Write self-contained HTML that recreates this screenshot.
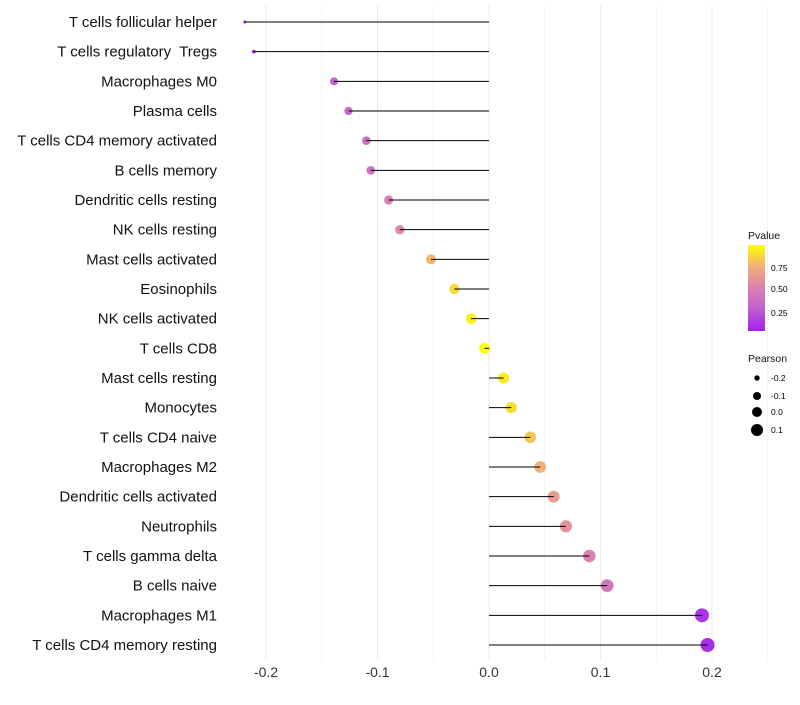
<!DOCTYPE html>
<html><head><meta charset="utf-8"><style>
body{margin:0;background:#fff;font-family:"Liberation Sans",sans-serif}
</style></head><body>
<svg id="chart" width="800" height="700" xmlns="http://www.w3.org/2000/svg">
<defs><linearGradient id="pg" x1="0" y1="1" x2="0" y2="0">
<stop offset="0" stop-color="#a020f0"/><stop offset="0.25" stop-color="#c060d0"/><stop offset="0.5" stop-color="#d880b0"/><stop offset="0.75" stop-color="#f0b078"/><stop offset="1" stop-color="#ffff00"/></linearGradient></defs>
<g id="grid"></g><g id="points"></g><g id="marks"></g><g id="labels"></g><g id="legend"></g>
</svg>
<script>
const categories=["T cells follicular helper","T cells regulatory  Tregs","Macrophages M0","Plasma cells","T cells CD4 memory activated","B cells memory","Dendritic cells resting","NK cells resting","Mast cells activated","Eosinophils","NK cells activated","T cells CD8","Mast cells resting","Monocytes","T cells CD4 naive","Macrophages M2","Dendritic cells activated","Neutrophils","T cells gamma delta","B cells naive","Macrophages M1","T cells CD4 memory resting"];
const pearson=[-0.219,-0.211,-0.139,-0.126,-0.110,-0.106,-0.090,-0.080,-0.052,-0.031,-0.016,-0.004,0.013,0.020,0.037,0.046,0.058,0.069,0.090,0.106,0.191,0.196];
const pvalue=[0.02,0.03,0.28,0.33,0.38,0.40,0.50,0.55,0.78,0.88,0.95,0.99,0.93,0.90,0.82,0.75,0.65,0.60,0.50,0.42,0.08,0.06];
const xTicks=[-0.2,-0.1,0.0,0.1,0.2];
const xTickLabels=["-0.2","-0.1","0.0","0.1","0.2"];
const NS="http://www.w3.org/2000/svg";
const x=v=>489+v*1115;
const y=i=>22+i*(623/21);
function rad(v){let r2;if(v<-0.139)r2=2.25+(v+0.219)/0.08*13.75;else r2=16+100*(v+0.139);return Math.sqrt(Math.max(r2,2.25));}
function hex(h){return [1,3,5].map(i=>parseInt(h.substr(i,2),16));}
const stops=[[0,"#a020f0"],[0.25,"#c060d0"],[0.5,"#d880b0"],[0.75,"#f0b078"],[1,"#ffff00"]];
function col(p){for(let k=1;k<stops.length;k++){if(p<=stops[k][0]){const a=stops[k-1],b=stops[k];const t=(p-a[0])/(b[0]-a[0]);const A=hex(a[1]),B=hex(b[1]);return "rgb("+A.map((c,j)=>Math.round(c+(B[j]-c)*t)).join(",")+")";}}return "#ffff00";}
function mk(tag,attrs,parent){const e=document.createElementNS(NS,tag);for(const k in attrs)e.setAttribute(k,attrs[k]);document.getElementById(parent).appendChild(e);return e;}
for(let v=-0.2;v<=0.2501;v+=0.05){const g=mk("line",{x1:x(v),x2:x(v),y1:5,y2:660,stroke:"#ebebeb","stroke-width":Math.abs(Math.round(v*20))%2===0?1:0.6},"grid");

}
xTicks.forEach((t,i)=>{const e=mk("text",{x:x(t),y:677,"text-anchor":"middle","font-size":14,fill:"#333"},"labels");e.textContent=xTickLabels[i];

});
categories.forEach((c,i)=>{
const p=mk("circle",{cx:x(pearson[i]),cy:y(i),r:rad(pearson[i]),fill:col(pvalue[i])},"points");


const l=mk("line",{x1:x(0),x2:x(pearson[i]),y1:y(i),y2:y(i),stroke:"#000","stroke-width":1},"marks");


const t=mk("text",{x:217,y:y(i)+5,"text-anchor":"end","font-size":15,fill:"#111","xml:space":"preserve",style:"white-space:pre"},"labels");t.textContent=c;

});
const lg=document.getElementById("legend");
lg.innerHTML='<text x="748" y="239" font-size="10.5" fill="#111">Pvalue</text><rect x="748" y="245" width="17" height="86" fill="url(#pg)"/>'+
'<text x="771" y="271" font-size="8.5">0.75</text><text x="771" y="292" font-size="8.5">0.50</text><text x="771" y="316" font-size="8.5">0.25</text>'+
'<text x="748" y="362" font-size="10.5" fill="#111">Pearson</text>'+
'<circle cx="757" cy="378" r="2.7"/><text x="771" y="381" font-size="8.5">-0.2</text>'+
'<circle cx="757" cy="396" r="4"/><text x="771" y="399" font-size="8.5">-0.1</text>'+
'<circle cx="757" cy="412" r="5"/><text x="771" y="415" font-size="8.5">0.0</text>'+
'<circle cx="757" cy="430" r="6"/><text x="771" y="433" font-size="8.5">0.1</text>';


</script>
</body></html>
